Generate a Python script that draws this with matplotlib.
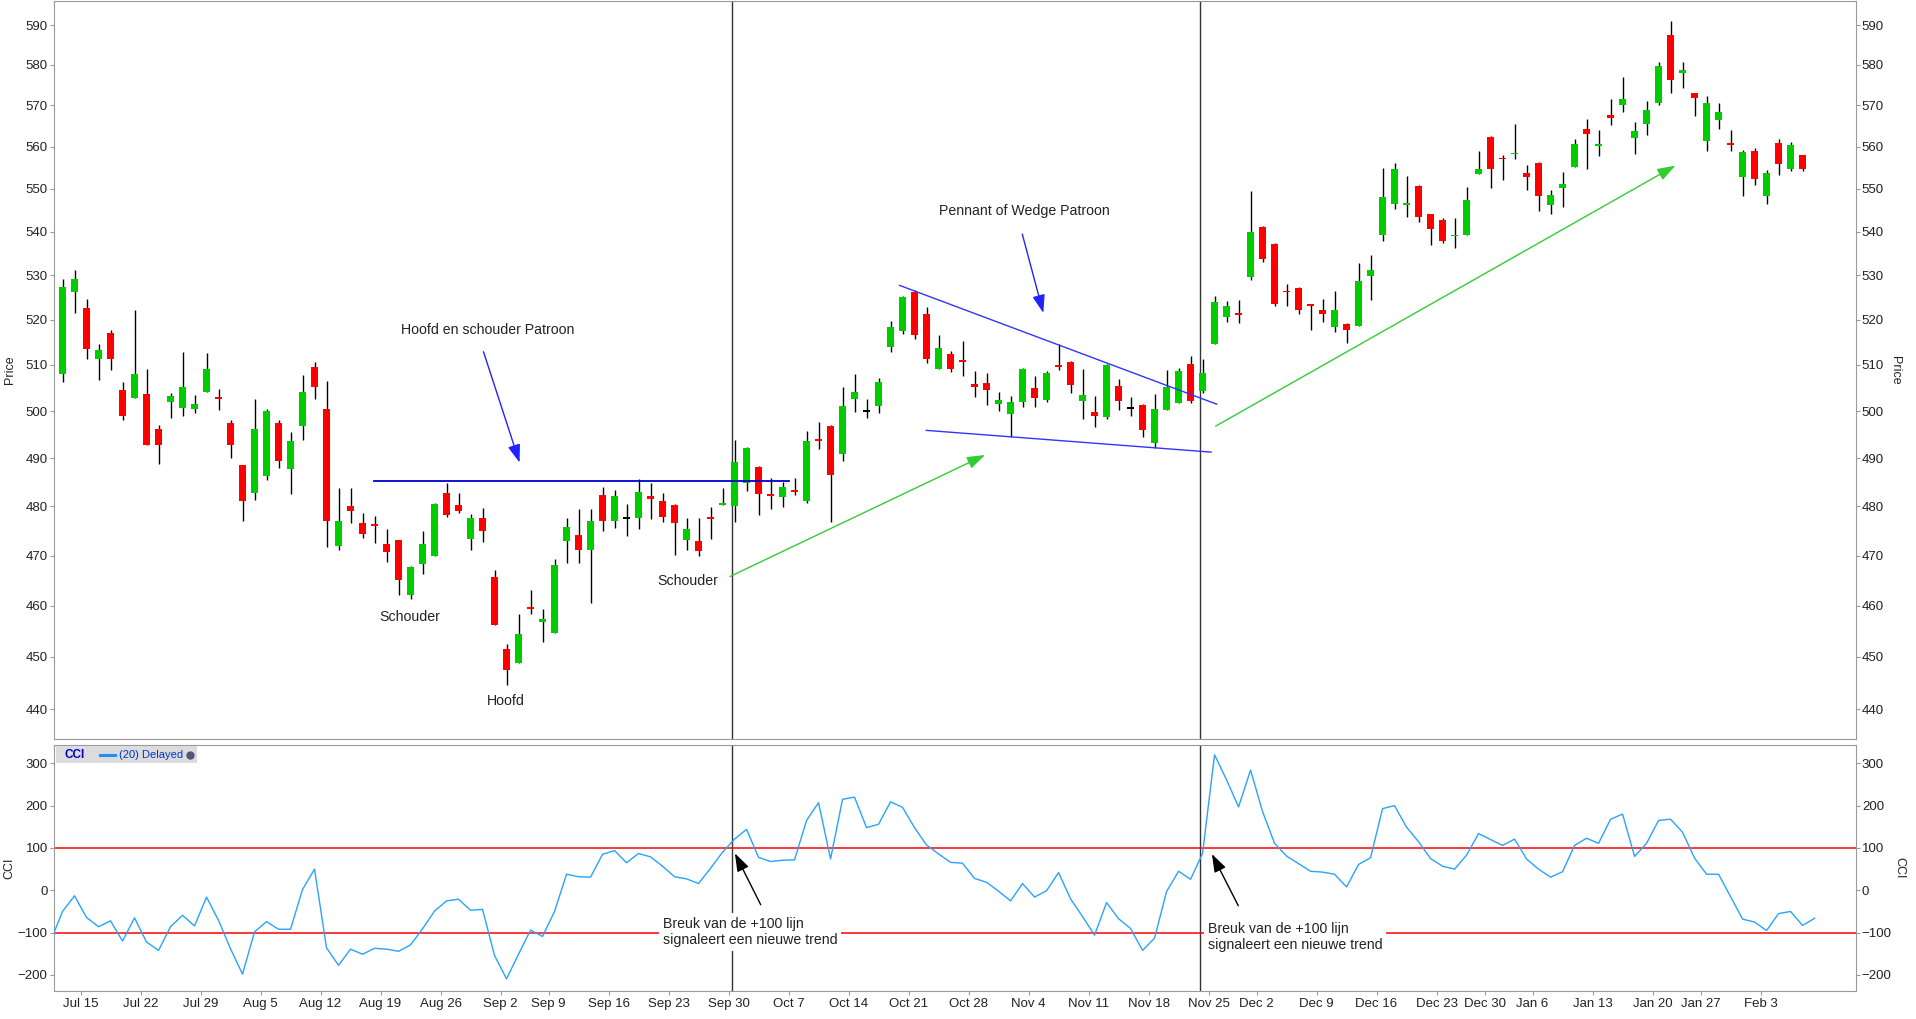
import numpy as np
import pandas as pd
import matplotlib
matplotlib.use("Agg")
import matplotlib.pyplot as plt
from matplotlib.ticker import FixedLocator, FuncFormatter, NullLocator
from matplotlib.patches import Rectangle

plt.rcParams['font.family'] = ['Liberation Sans', 'DejaVu Sans']

# handelsdagen 11 jul 2019 .. 6 feb 2020 (US beurs)
holidays = ["2019-09-02", "2019-11-28", "2019-12-25", "2020-01-01", "2020-01-20"]
days = pd.bdate_range("2019-07-11", "2020-02-06")
days = days[~days.isin(pd.to_datetime(holidays))]

opens = [508.0, 526.1, 522.6, 511.2, 517.0, 504.6, 502.9, 503.7, 496.2, 502.0,
         500.7, 500.5, 504.2, 503.0, 497.4, 488.5, 482.8, 486.3, 497.4, 487.8,
         496.9, 509.6, 500.4, 471.9, 480.0, 476.5, 476.4, 472.4, 473.1, 462.1,
         468.2, 469.9, 482.7, 480.2, 473.3, 477.6, 465.7, 451.5, 448.9, 459.8,
         456.8, 454.7, 472.9, 474.1, 471.1, 482.3, 477.0, 477.6, 477.6, 482.1,
         481.2, 480.2, 473.1, 472.9, 477.8, 480.2, 480.0, 484.9, 488.1, 482.6,
         482.0, 483.3, 481.1, 494.0, 496.8, 491.0, 502.7, 500.1, 501.2, 514.0,
         517.5, 526.3, 521.2, 509.2, 512.4, 511.1, 505.9, 506.1, 501.6, 499.4,
         502.0, 505.0, 502.5, 510.0, 510.7, 502.2, 499.8, 498.8, 505.4, 500.7,
         501.3, 493.3, 500.3, 501.8, 510.2, 504.4, 514.7, 520.5, 521.5, 529.6,
         541.1, 537.1, 526.5, 527.2, 523.5, 522.1, 518.3, 519.1, 518.5, 529.8,
         539.2, 546.5, 546.3, 550.7, 544.0, 542.6, 539.0, 539.2, 553.6, 562.4,
         557.4, 558.3, 553.8, 556.2, 546.1, 550.1, 555.1, 564.4, 560.3, 567.6,
         570.2, 562.2, 565.6, 570.7, 587.5, 578.1, 573.0, 561.5, 566.4, 561.0,
         552.9, 559.0, 548.4, 561.0, 554.8, 558.1]
highs = [529.1, 531.1, 524.7, 514.6, 517.8, 506.3, 522.1, 509.1, 497.0, 503.9,
         512.9, 503.5, 512.6, 504.8, 498.1, 488.5, 502.6, 500.4, 498.1, 495.5,
         507.8, 510.7, 506.5, 483.7, 483.7, 478.6, 478.0, 475.3, 473.1, 467.8,
         474.9, 480.6, 484.8, 482.7, 478.4, 479.6, 467.1, 452.5, 458.3, 463.1,
         459.4, 469.4, 477.6, 479.4, 479.4, 484.0, 483.3, 480.4, 485.6, 484.8,
         482.7, 480.4, 477.6, 477.6, 479.8, 483.7, 493.8, 492.3, 488.3, 485.8,
         485.1, 485.8, 495.7, 497.7, 497.0, 505.2, 508.0, 502.6, 507.2, 519.8,
         525.3, 526.6, 522.8, 516.5, 513.0, 515.2, 508.7, 508.3, 504.1, 503.3,
         509.3, 507.6, 508.7, 514.6, 510.9, 509.1, 503.3, 510.2, 507.0, 503.0,
         501.5, 503.7, 508.8, 509.3, 512.0, 511.3, 525.3, 524.2, 524.4, 549.5,
         541.3, 537.3, 527.9, 527.4, 523.5, 524.7, 526.5, 519.3, 532.8, 534.7,
         555.0, 556.0, 553.1, 550.9, 544.2, 543.1, 543.1, 550.5, 559.0, 562.6,
         558.1, 565.6, 555.7, 556.4, 549.8, 554.0, 561.9, 566.6, 564.1, 571.5,
         577.1, 565.9, 571.0, 580.7, 591.0, 580.7, 573.0, 572.4, 570.7, 564.1,
         559.3, 559.8, 554.5, 561.9, 561.2, 558.1]
lows = [506.2, 521.5, 511.3, 506.8, 508.8, 498.1, 502.9, 492.8, 488.8, 498.6,
        499.0, 499.6, 504.2, 500.3, 490.1, 477.1, 481.3, 485.5, 488.0, 482.6,
        493.9, 502.7, 471.7, 471.1, 476.6, 473.5, 472.6, 468.6, 462.1, 461.3,
        466.2, 469.9, 477.8, 478.6, 471.2, 472.7, 456.2, 444.6, 448.9, 458.3,
        452.9, 454.7, 468.4, 468.4, 460.5, 475.0, 475.6, 473.9, 475.4, 477.4,
        476.8, 470.1, 471.1, 469.9, 473.3, 480.2, 476.8, 483.2, 478.2, 479.4,
        479.9, 482.4, 480.7, 492.0, 476.8, 489.4, 499.9, 498.6, 499.6, 512.9,
        516.8, 515.7, 510.5, 509.2, 508.5, 507.7, 503.1, 501.4, 500.1, 494.5,
        500.9, 500.9, 502.0, 508.9, 504.0, 498.4, 496.7, 498.4, 500.3, 499.0,
        494.5, 492.2, 500.3, 501.8, 501.8, 504.0, 514.5, 519.4, 519.2, 528.9,
        532.9, 523.1, 523.1, 521.3, 517.6, 519.4, 517.2, 514.8, 518.5, 524.3,
        537.8, 545.3, 543.4, 542.3, 537.0, 537.4, 536.3, 539.2, 553.6, 550.3,
        552.0, 557.0, 549.8, 544.9, 544.0, 545.8, 555.1, 554.6, 557.7, 565.2,
        568.3, 558.2, 562.9, 570.2, 573.0, 574.2, 567.5, 558.9, 564.2, 559.1,
        548.4, 550.8, 546.5, 553.2, 554.1, 554.1]
closes = [527.4, 529.1, 513.5, 513.3, 511.2, 499.0, 508.0, 492.8, 492.8, 503.3,
          505.2, 501.5, 509.1, 502.7, 492.8, 481.1, 496.2, 500.0, 489.4, 493.6,
          504.1, 505.3, 477.0, 477.1, 479.0, 474.3, 476.0, 470.7, 465.0, 467.6,
          472.4, 480.4, 478.2, 479.0, 477.6, 475.0, 456.2, 447.4, 454.4, 459.4,
          457.3, 468.0, 475.7, 471.1, 477.1, 477.0, 482.1, 477.6, 482.9, 481.5,
          477.8, 476.6, 475.3, 470.9, 477.4, 480.6, 489.2, 492.1, 482.6, 482.2,
          484.0, 482.9, 493.6, 493.6, 486.6, 501.1, 504.1, 500.1, 506.3, 518.3,
          525.1, 516.6, 511.2, 513.7, 509.2, 510.7, 505.1, 504.6, 502.4, 502.0,
          509.1, 502.9, 508.3, 509.6, 505.7, 503.5, 499.0, 510.0, 502.2, 500.7,
          496.0, 500.4, 505.2, 508.7, 502.2, 508.3, 524.0, 523.0, 521.0, 540.0,
          533.8, 523.6, 526.1, 522.2, 523.1, 521.3, 522.1, 517.6, 528.8, 531.1,
          548.1, 554.8, 546.7, 543.4, 540.5, 537.8, 539.3, 547.4, 554.8, 554.6,
          557.0, 558.6, 552.9, 548.4, 548.6, 551.2, 560.7, 563.0, 560.7, 566.9,
          571.7, 563.7, 569.0, 579.8, 576.2, 578.8, 571.9, 570.7, 568.3, 560.5,
          558.8, 552.2, 553.8, 555.8, 560.5, 554.8]

# CCI(20), een dag voor de eerste en na de laatste kaars
cci = [-120, -50, -13, -64, -86, -72, -120, -65, -122, -142, -86, -59, -84, -16,
       -71, -138, -198, -98, -74, -92, -92, 2, 50, -136, -177, -139, -151, -137,
       -139, -144, -129, -91, -49, -25, -21, -47, -45, -154, -209, -151, -94,
       -109, -50, 38, 32, 31, 85, 94, 65, 87, 79, 57, 32, 27, 16, 52, 90, 121,
       144, 78, 68, 71, 72, 165, 207, 74, 215, 220, 148, 156, 209, 196, 148, 107,
       86, 66, 64, 28, 19, -2, -25, 16, -16, -1, 42, -20, -62, -106, -29, -67,
       -90, -142, -113, -3, 45, 26, 87, 320, 261, 197, 284, 186, 111, 81, 63, 45,
       43, 38, 8, 61, 77, 193, 200, 149, 115, 75, 57, 50, 83, 134, 120, 106, 121,
       74, 50, 31, 44, 106, 123, 111, 168, 180, 80, 111, 165, 168, 137, 76, 38,
       38, -15, -68, -75, -95, -55, -50, -83, -66]

GREEN = "#00cc00"
RED = "#ff0000"
GRID = "#9a9a9a"
TXT = "#222222"

n = len(closes)
xi = np.arange(n)
xc = np.arange(-1, n + 1)

fig = plt.figure(figsize=(19.16, 10.19), dpi=100)
ax = fig.add_axes([0.02818, 0.2745, 0.9403, 0.7245])
ax2 = fig.add_axes([0.02818, 0.02748, 0.9403, 0.2417])

# --- candles
o = np.array(opens); c = np.array(closes)
cols = np.where(c > o, GREEN, np.where(c < o, RED, "black"))
ax.vlines(xi, lows, highs, color="black", lw=1, zorder=2)
body = np.maximum(np.abs(c - o), 0.35)
ax.bar(xi, body, bottom=np.minimum(o, c) - (body - np.abs(c - o)) / 2,
       width=0.58, color=cols, zorder=3, linewidth=0)

ax.set_yscale("log")
ax.set_ylim(434.4, 596.1)
ax.set_xlim(-0.71, 149.42)
yt = list(range(440, 600, 10))
ax.yaxis.set_major_locator(FixedLocator(yt))
ax.yaxis.set_major_formatter(FuncFormatter(lambda v, p: f"{v:.0f}"))
ax.yaxis.set_minor_locator(NullLocator())
ax.yaxis.set_minor_formatter(FuncFormatter(lambda v, p: ""))
ax.tick_params(axis="y", which="both", left=True, right=True, labelleft=True,
               labelright=True, length=3, pad=1.5, color=GRID, labelsize=9.5,
               labelcolor=TXT)
ax.tick_params(axis="x", bottom=False, labelbottom=False)

# --- patronen
ax.plot([25.96, 60.5], [485.2, 485.2], color="#0000cc", lw=1.3, zorder=4)
ax.plot([69.75, 96.18], [527.7, 501.5], color="#3333ff", lw=1, zorder=4)
ax.plot([71.98, 95.71], [495.9, 491.3], color="#3333ff", lw=1, zorder=4)

arr = dict(arrowstyle="-|>,head_length=1.1,head_width=0.38", mutation_scale=10,
           shrinkA=0, shrinkB=0, lw=1)
ax.annotate("", xy=(38.09, 489.1), xytext=(35.08, 512.9),
            arrowprops=dict(arr, color="#2222ff"))
ax.annotate("", xy=(81.73, 521.5), xytext=(79.98, 539.4),
            arrowprops=dict(arr, color="#2222ff"))
ax.annotate("", xy=(76.88, 490.7), xytext=(55.63, 465.8),
            arrowprops=dict(arr, color="#33cc33"))
ax.annotate("", xy=(134.4, 555.5), xytext=(96.09, 496.8),
            arrowprops=dict(arr, color="#33cc33"))

tk = dict(color=TXT, fontsize=10.2, ha="center", va="center")
ax.text(35.4, 517.7, "Hoofd en schouder Patroon", **tk)
ax.text(28.9, 457.7, "Schouder", **tk)
ax.text(36.96, 441.6, "Hoofd", **tk)
ax.text(52.1, 464.9, "Schouder", **tk)
ax.text(80.19, 544.8, "Pennant of Wedge Patroon", **tk)

ax.text(-0.0244, 0.5, "Price", transform=ax.transAxes, rotation=90,
        ha="center", va="center", fontsize=9, color=TXT)
ax.text(1.0219, 0.5, "Price", transform=ax.transAxes, rotation=270,
        ha="center", va="center", fontsize=9, color=TXT)

# --- CCI paneel
ax2.plot(xc, cci, color="#29a3ff", lw=1, zorder=3)
ax2.axhline(100, color=RED, lw=1.1, zorder=2)
ax2.axhline(-100, color=RED, lw=1.1, zorder=2)
ax2.set_xlim(-0.71, 149.42)
ax2.set_ylim(-237.8, 343.9)
ax2.yaxis.set_major_locator(FixedLocator([-200, -100, 0, 100, 200, 300]))
ax2.tick_params(axis="y", left=True, right=True, labelleft=True, labelright=True,
                length=3, pad=1.5, color=GRID, labelsize=9.5, labelcolor=TXT)

week_first = pd.Series(np.arange(n), index=days).groupby(
    days.to_period("W-SUN")).first()
tick_pos = [v - 0.5 for v in week_first.values[1:]]
tick_lab = [(p.start_time).strftime("%b %-d") for p in week_first.index[1:]]
ax2.set_xticks(tick_pos)
ax2.set_xticklabels(tick_lab)
ax2.tick_params(axis="x", length=3, pad=2, color=GRID, labelsize=9.5,
                labelcolor=TXT)

ax2.annotate("", xy=(56.03, 87.4), xytext=(58.18, -34),
             arrowprops=dict(arr, color="black"))
ax2.annotate("", xy=(95.78, 85.7), xytext=(97.98, -36.4),
             arrowprops=dict(arr, color="black"))
bx = dict(facecolor="white", edgecolor="none", pad=2.5)
ax2.text(50.04, -98.5, "Breuk van de +100 lijn\nsignaleert een nieuwe trend",
         fontsize=10.2, color=TXT, ha="left", va="center", bbox=bx, zorder=5)
ax2.text(95.42, -111, "Breuk van de +100 lijn\nsignaleert een nieuwe trend",
         fontsize=10.2, color=TXT, ha="left", va="center", bbox=bx, zorder=5)

ax2.text(-0.0250, 0.5, "CCI", transform=ax2.transAxes, rotation=90,
         ha="center", va="center", fontsize=9, color=TXT)
ax2.text(1.0244, 0.5, "CCI", transform=ax2.transAxes, rotation=270,
         ha="center", va="center", fontsize=9, color=TXT)

# legenda-kader linksboven
ax2.add_patch(Rectangle((0.0011, 0.9257), 0.0783, 0.069, transform=ax2.transAxes,
                        facecolor="#dcdcdc", edgecolor="none", zorder=6))
ax2.text(0.0056, 0.9602, "CCI", transform=ax2.transAxes, fontsize=8.5,
         fontweight="bold", color="#0000cc", va="center", zorder=7)
ax2.plot([0.0254, 0.0339], [0.9602, 0.9602], transform=ax2.transAxes,
         color="#1e90ff", lw=2.2, zorder=7)
ax2.text(0.0363, 0.9602, "(20) Delayed", transform=ax2.transAxes, fontsize=8,
         color="#0033cc", va="center", zorder=7)
ax2.plot([0.0755], [0.9602], transform=ax2.transAxes, marker="o", ms=5,
         color="#555577", zorder=7)

# verticale lijnen bij de uitbraken
for a in (ax, ax2):
    for v in (55.75, 94.75):
        a.axvline(v, color="#333333", lw=1, zorder=1)
    for s in a.spines.values():
        s.set_color(GRID)

fig.savefig("out.png", dpi=100)
